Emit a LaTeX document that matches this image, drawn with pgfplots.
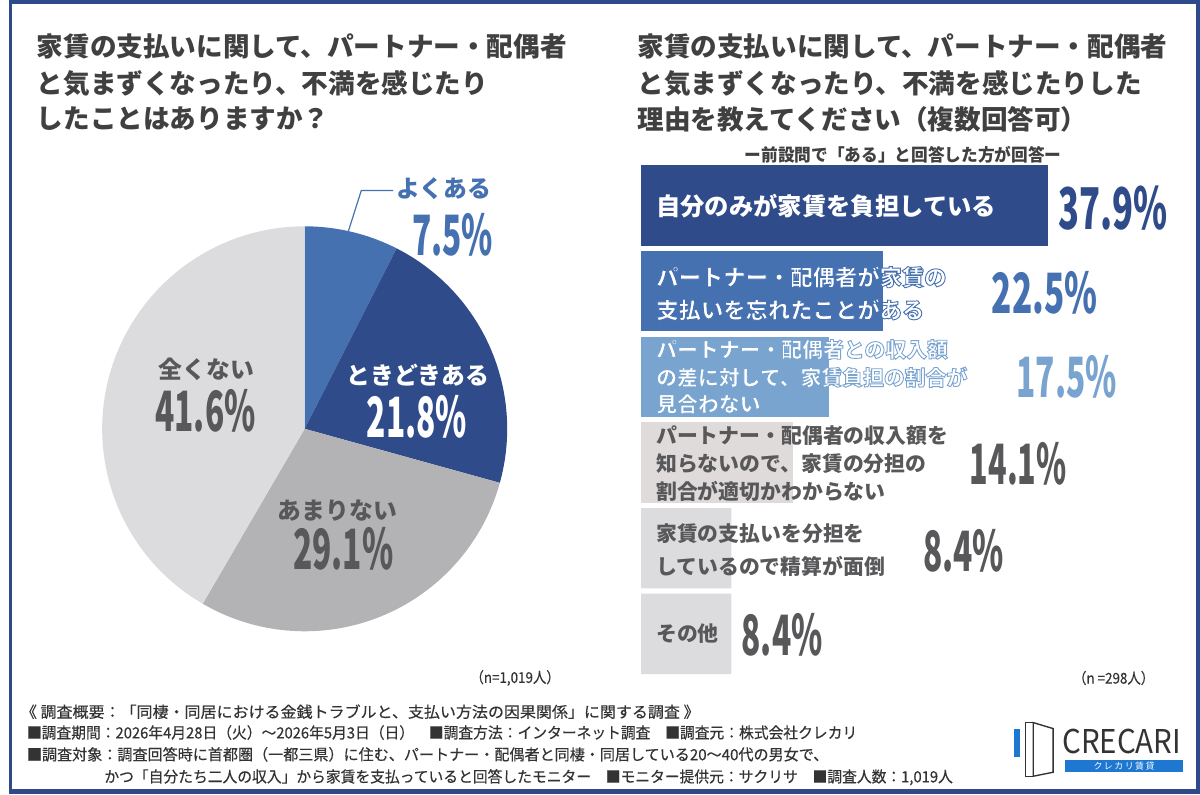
\documentclass[border=0pt]{standalone}
\usepackage{pgfplots}
\pgfplotsset{compat=1.18}
\usepackage{pgfplotstable}
\usepackage{fontspec}
\setmainfont{Noto Sans CJK JP}
\newfontfamily\medfont{Noto Sans CJK JP}[FakeBold=0.4]
\usepackage{graphicx}

\definecolor{frame}{HTML}{2E4A8A}
\definecolor{navy}{HTML}{2F4B8A}
\definecolor{mblue}{HTML}{4671B1}
\definecolor{lblue}{HTML}{78A4CF}
\definecolor{pgray}{HTML}{DFDBDB}
\definecolor{lgray}{HTML}{DCDCDF}
\definecolor{mgray}{HTML}{B3B3B6}
\definecolor{tgray}{HTML}{58585A}
\definecolor{ttl}{HTML}{404040}
\definecolor{foot}{HTML}{333333}
\definecolor{logoblue}{HTML}{1E78D2}

\newcommand\bignum[3]{\scalebox{#2}[1]{\fontsize{#1}{#1}\selectfont\bfseries #3}}
% white text with a thin coloured outline (fill + stroke)
\newcommand\outl[2]{\special{pdf:literal direct q 2 Tr 0.9 w #1 RG}#2\special{pdf:literal direct Q}}

\pgfplotstableread{
label value
yoku 7.5
tokidoki 21.8
amari 29.1
mattaku 41.6
}\piedata

\pgfplotstableread{
item value
1 37.9
2 22.5
3 17.5
4 14.1
5 8.4
6 8.4
}\bardata

\begin{document}
\pgfplotstablegetelem{0}{value}\of\piedata \pgfmathsetmacro\aA{90-3.6*\pgfplotsretval}
\pgfplotstablegetelem{1}{value}\of\piedata \pgfmathsetmacro\aB{\aA-3.6*\pgfplotsretval}
\pgfplotstablegetelem{2}{value}\of\piedata \pgfmathsetmacro\aC{\aB-3.6*\pgfplotsretval}
\pgfplotstablegetelem{3}{value}\of\piedata \pgfmathsetmacro\aD{\aC-3.6*\pgfplotsretval}
\begin{tikzpicture}
\begin{scope}[x=1pt,y=-1pt]
\fill[frame] (0,0) rectangle (1200,800);
\fill[white] (3,4) rectangle (1196,795);
\end{scope}

% ---------- pie ----------
\begin{axis}[at={(298pt,-432pt)}, anchor=center, x=1pt, y=1pt,
  xmin=-204, xmax=204, ymin=-204, ymax=204, hide axis, clip=false]
\fill[mblue] (axis cs:0,0) -- (axis cs:0,204) arc[start angle=90, end angle=\aA, radius=204pt] -- cycle;
\fill[navy] (axis cs:0,0) -- ({204*cos(\aA)},{204*sin(\aA)}) arc[start angle=\aA, end angle=\aB, radius=204pt] -- cycle;
\fill[mgray] (axis cs:0,0) -- ({204*cos(\aB)},{204*sin(\aB)}) arc[start angle=\aB, end angle=\aC, radius=204pt] -- cycle;
\fill[lgray] (axis cs:0,0) -- ({204*cos(\aC)},{204*sin(\aC)}) arc[start angle=\aC, end angle=\aD, radius=204pt] -- cycle;
\end{axis}

% ---------- bars ----------
\begin{axis}[at={(637pt,-164pt)}, anchor=north west, scale only axis,
  width=551.8pt, height=517.8pt,
  xmin=0, xmax=51, ymin=-5.5, ymax=0.5, hide axis, clip=false,
  xbar, bar width=81pt, bar shift=0pt]
\addplot[draw=none, fill=navy]  table[x=value, y expr=-\coordindex, skip coords between index={1}{6}] {\bardata};
\addplot[draw=none, fill=mblue] table[x=value, y expr=-\coordindex, skip coords between index={0}{1}, skip coords between index={2}{6}] {\bardata};
\addplot[draw=none, fill=lblue] table[x=value, y expr=-\coordindex, skip coords between index={0}{2}, skip coords between index={3}{6}] {\bardata};
\addplot[draw=none, fill=pgray] table[x=value, y expr=-\coordindex, skip coords between index={0}{3}, skip coords between index={4}{6}] {\bardata};
\addplot[draw=none, fill=lgray] table[x=value, y expr=-\coordindex, skip coords between index={0}{4}] {\bardata};
\end{axis}

\begin{scope}[x=1pt,y=-1pt]
% ---------- titles ----------
\begin{scope}[every node/.style={anchor=west,inner sep=0,text=ttl,font=\bfseries\fontsize{26.8}{26.8}\selectfont}]
\node at (28,47) {家賃の支払いに関して、パートナー・配偶者};
\node at (28,84) {と気まずくなったり、不満を感じたり};
\node at (28,120) {したことはありますか？};
\node at (633,47) {家賃の支払いに関して、パートナー・配偶者};
\node at (633,84) {と気まずくなったり、不満を感じたりした};
\node at (633,120) {理由を教えてください（複数回答可）};
\end{scope}
\node[inner sep=0,text=ttl,font=\bfseries\fontsize{17.5}{17.5}\selectfont] at (901,156) {\scalebox{0.96}[1]{ー前設問で「ある」と回答した方が回答ー}};

% ---------- pie labels ----------
\draw[mblue, line width=1.2pt] (342,233) -- (355,192) -- (387,192);
\node[inner sep=0,text=mblue,font=\bfseries\fontsize{24}{24}\selectfont] at (438,190) {よくある};
\node[anchor=east,inner sep=0,text=mblue] at (488,237) {\bignum{56}{0.57}{7.5\%}};
\node[inner sep=0,text=white,font=\bfseries\fontsize{24}{24}\selectfont] at (412,378) {ときどきある};
\node[inner sep=0,text=white] at (411,420) {\bignum{56}{0.57}{21.8\%}};
\node[inner sep=0,text=tgray,font=\bfseries\fontsize{24}{24}\selectfont] at (199,372) {全くない};
\node[inner sep=0,text=tgray] at (198,414) {\bignum{56}{0.57}{41.6\%}};
\node[inner sep=0,text=tgray,font=\bfseries\fontsize{24}{24}\selectfont] at (331,514) {あまりない};
\node[inner sep=0,text=tgray] at (337,553) {\bignum{56}{0.57}{29.1\%}};

% ---------- bar labels ----------
\node[anchor=west,inner sep=0,text=white,font=\bfseries\fontsize{24.5}{24.5}\selectfont] at (652,208) {自分のみが家賃を負担している};
\begin{scope}[every node/.style={anchor=west,inner sep=0,text=white,font=\bfseries\fontsize{22.5}{22.5}\selectfont}]
\node at (652,279) {\outl{0.275 0.443 0.694}{パートナー・配偶者が家賃の}};
\node at (652,312) {\outl{0.275 0.443 0.694}{支払いを忘れたことがある}};
\end{scope}
\begin{scope}[every node/.style={anchor=west,inner sep=0,text=white,font=\bfseries\fontsize{21}{21}\selectfont}]
\node at (652,352) {\outl{0.471 0.643 0.812}{パートナー・配偶者との収入額}};
\node at (652,380) {\outl{0.471 0.643 0.812}{の差に対して、家賃負担の割合が}};
\node at (652,407) {\outl{0.471 0.643 0.812}{見合わない}};
\end{scope}
\begin{scope}[every node/.style={anchor=west,inner sep=0,text=tgray,font=\bfseries\fontsize{21}{21}\selectfont}]
\node at (652,439) {パートナー・配偶者の収入額を};
\node at (652,467) {知らないので、家賃の分担の};
\node at (652,495) {割合が適切かわからない};
\node at (652,538) {家賃の支払いを分担を};
\node at (652,571) {しているので精算が面倒};
\node at (652,638) {その他};
\end{scope}
% values
\node[anchor=west,inner sep=0,text=navy]  at (1057,210) {\bignum{58}{0.6}{37.9\%}};
\node[anchor=west,inner sep=0,text=mblue] at (990,295) {\bignum{56}{0.6}{22.5\%}};
\node[anchor=west,inner sep=0,text=lblue] at (1015,380) {\bignum{56}{0.57}{17.5\%}};
\node[anchor=west,inner sep=0,text=tgray] at (968,467) {\bignum{56}{0.55}{14.1\%}};
\node[anchor=west,inner sep=0,text=tgray] at (921,555) {\bignum{56}{0.57}{8.4\%}};
\node[anchor=west,inner sep=0,text=tgray] at (738,640) {\bignum{56}{0.57}{8.4\%}};

% ---------- logo ----------
\fill[logoblue] (1013,734) rectangle (1019,763);
\draw[foot, line width=1.4pt] (1032,728) -- (1024,728) -- (1024,782) -- (1032,782);
\draw[foot, line width=1.4pt] (1032,728) -- (1052,734) -- (1052,778) -- (1032,782) -- cycle;
\node[anchor=west,inner sep=0,text=foot] at (1061,747) {\scalebox{0.9}[1]{\fontsize{33}{33}\selectfont CRECARI}};
\fill[logoblue] (1064,766) rectangle (1183,778);
\node[inner sep=0,text=white,font=\fontsize{9}{9}\selectfont] at (1123.5,772) {ク\,レ\,カ\,リ\,賃\,貸};

% ---------- n labels ----------
\node[inner sep=0,text=foot,font=\medfont\fontsize{15}{15}\selectfont] at (510,683) {\scalebox{0.9}[1]{（n=1,019人）}};
\node[inner sep=0,text=foot,font=\medfont\fontsize{15}{15}\selectfont] at (1113,683) {\scalebox{0.9}[1]{（n =298人）}};

% ---------- footer ----------
\begin{scope}[every node/.style={anchor=west,inner sep=0,text=foot,font=\medfont\fontsize{15.5}{15.5}\selectfont}]
\node at (12,717) {\scalebox{1.04}[1]{《 調査概要：「同棲・同居における金銭トラブルと、支払い方法の因果関係」に関する調査 》}};
\node at (18,738) {\scalebox{0.96}[1]{■調査期間：2026年4月28日（火）～2026年5月3日（日）\quad ■調査方法：インターネット調査\quad ■調査元：株式会社クレカリ}};
\node at (18,760) {\scalebox{0.98}[1]{■調査対象：調査回答時に首都圏（一都三県）に住む、パートナー・配偶者と同棲・同居している20～40代の男女で、}};
\node at (96,783) {\scalebox{0.96}[1]{かつ「自分たち二人の収入」から家賃を支払っていると回答したモニター\quad ■モニター提供元：サクリサ\quad ■調査人数：1,019人}};
\end{scope}
\end{scope}
\end{tikzpicture}
\end{document}
